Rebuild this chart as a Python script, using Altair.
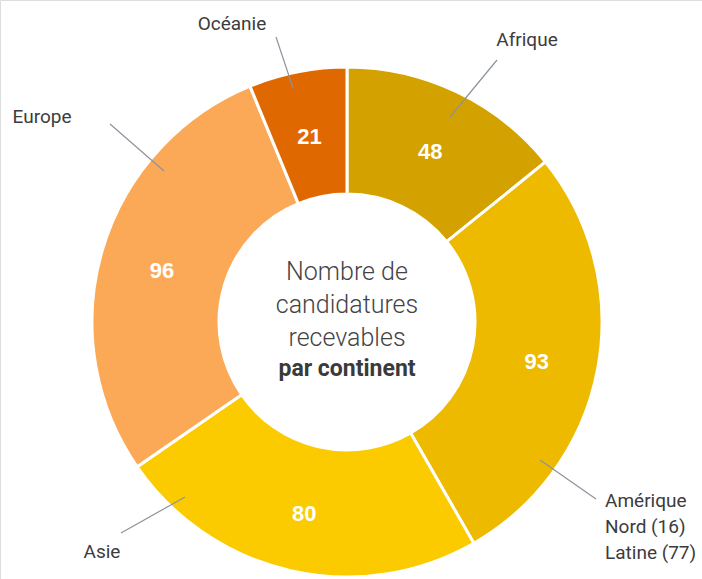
import altair as alt
import pandas as pd

# ---- data ----
continents = ["Afrique", "Amérique", "Asie", "Europe", "Océanie"]
values = [48, 93, 80, 96, 21]
colors = ["#D3A200", "#EDBA00", "#FBCB00", "#FBA957", "#E06800"]

# leader lines (chart frame centred on the ring, y pointing up)
lead_names = ["Afrique", "Amérique", "Asie", "Europe", "Océanie"]
lead_x1 = [103, 193, -162, -183, -54]
lead_y1 = [205, -138, -175, 151, 234]
lead_x2 = [150, 249, -226, -237, -71]
lead_y2 = [262, -177, -211, 198, 285]

# outer labels
lab_text = ["Afrique", "Océanie", "Europe", "Asie"]
lab_x = [180, -115, -305, -245]
lab_y = [282, 298, 205, -230]

am_text = ["Amérique", "Nord (16)", "Latine (77)"]
am_x = [258, 258, 258]
am_y = [-179, -205, -231]

center_light = ["Nombre de", "candidatures", "recevables"]
center_light_y = [50, 17, -16]
center_bold = ["par continent"]
center_bold_y = [-47]

W, H = 702, 579
xscale = alt.Scale(domain=[-347, 355], range=[0, W], nice=False, zero=False)
yscale = alt.Scale(domain=[-257, 322], range=[H, 0], nice=False, zero=False)

df = pd.DataFrame({"continent": continents, "value": values, "idx": list(range(len(continents)))})
leads = pd.DataFrame({"name": lead_names, "x1": lead_x1, "y1": lead_y1, "x2": lead_x2, "y2": lead_y2})
labs = pd.DataFrame({"t": lab_text, "x": lab_x, "y": lab_y})
ams = pd.DataFrame({"t": am_text, "x": am_x, "y": am_y})
cl = pd.DataFrame({"t": center_light, "x": [0] * 3, "y": center_light_y})
cb = pd.DataFrame({"t": center_bold, "x": [0], "y": center_bold_y})

X0 = alt.datum(0, scale=xscale, axis=None)
Y0 = alt.datum(0, scale=yscale, axis=None)

theta = alt.Theta("value:Q", stack=True)
order = alt.Order("idx:Q")

arcs = alt.Chart(df).mark_arc(radius=255, radius2=128, stroke="white", strokeWidth=3).encode(
    theta=theta,
    order=order,
    color=alt.Color("continent:N", scale=alt.Scale(domain=continents, range=colors), legend=None),
    x=X0,
    y=Y0,
)

vals = alt.Chart(df).mark_text(
    radius=193, dy=4, font="Liberation Sans", fontWeight="bold", fontSize=22, color="white"
).encode(theta=theta, order=order, text="value:Q", x=X0, y=Y0)

lines = alt.Chart(leads).mark_rule(color="#8C939B", strokeWidth=1.2).encode(
    x=alt.X("x1:Q", scale=xscale, axis=None),
    y=alt.Y("y1:Q", scale=yscale, axis=None),
    x2="x2:Q",
    y2="y2:Q",
)

txt_style = dict(font="Roboto", fontSize=19, color="#3C3C3C", baseline="middle")
labels = alt.Chart(labs).mark_text(align="center", **txt_style).encode(
    x=alt.X("x:Q", scale=xscale, axis=None), y=alt.Y("y:Q", scale=yscale, axis=None), text="t:N"
)
am_labels = alt.Chart(ams).mark_text(align="left", **txt_style).encode(
    x=alt.X("x:Q", scale=xscale, axis=None), y=alt.Y("y:Q", scale=yscale, axis=None), text="t:N"
)
c_light = alt.Chart(cl).mark_text(
    align="center", baseline="middle", font="Roboto", fontWeight=300, fontSize=25, color="#444444"
).encode(x=alt.X("x:Q", scale=xscale, axis=None), y=alt.Y("y:Q", scale=yscale, axis=None), text="t:N")
c_bold = alt.Chart(cb).mark_text(
    align="center", baseline="middle", font="Roboto", fontWeight="bold", fontSize=23, color="#3A3A3A"
).encode(x=alt.X("x:Q", scale=xscale, axis=None), y=alt.Y("y:Q", scale=yscale, axis=None), text="t:N")

chart = alt.layer(arcs, vals, lines, labels, am_labels, c_light, c_bold).properties(
    width=W, height=H, padding=0, autosize=alt.AutoSizeParams(type="none")
).configure_view(stroke=None).configure(background="white")

chart.save("out.html", embed_options={"renderer": "svg", "actions": False})
